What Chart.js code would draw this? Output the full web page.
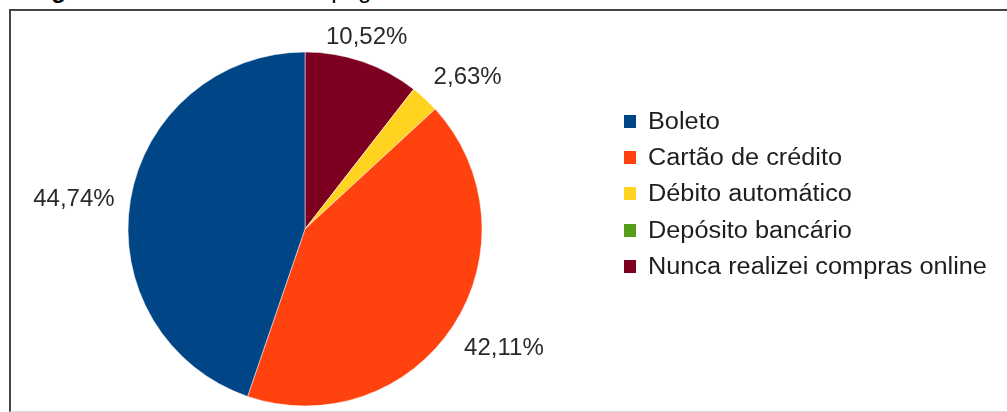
<!DOCTYPE html>
<html>
<head>
<meta charset="utf-8">
<script src="https://cdn.jsdelivr.net/npm/chart.js@4/dist/chart.umd.min.js"></script>
<style>
    html, body { margin: 0; padding: 0; background: #fff; }
    body { width: 1007px; height: 412px; position: relative; overflow: hidden; font-family: "Liberation Sans", Arial, sans-serif; }
    #caption { position: absolute; left: 30px; top: -22px; font-size: 24px; line-height: 24px; color: #000; white-space: nowrap; }
    #caption .rest { position: absolute; left: 180px; }
    #frame { position: absolute; left: 9px; top: 9px; width: 1010px; height: 400px;
             border-top: 2px solid #454545; border-left: 2px solid #454545; border-bottom: 1px solid #d8d8d8; }
    #chart { position: absolute; left: 0; top: 0; }
    #legend { position: absolute; left: 624px; top: 103px; margin: 0; padding: 0; list-style: none; }
    #legend li { height: 36.3px; display: flex; align-items: center; position: relative; }
    #legend .box { width: 12px; height: 13px; margin-right: 12px; }
    #legend .txt { font-size: 23px; color: #1e1e1e; display: inline-block; transform: scaleX(1.1); transform-origin: left center; white-space: nowrap; }
</style>
</head>
<body>
<div id="caption"><b>Figura 6 –</b><span class="rest">Formas de pagamento</span></div>
<div id="frame"></div>
<canvas id="chart" width="1007" height="412"></canvas>
<ul id="legend"></ul>
<script>
// Payment methods and their share of answers (%)
const labels = ['Boleto', 'Cartão de crédito', 'Débito automático', 'Depósito bancário', 'Nunca realizei compras online'];
const values = [44.74, 42.11, 2.63, 0, 10.52];
const valueLabels = ['44,74%', '42,11%', '2,63%', '0,00%', '10,52%'];
const colors = ['#004586', '#ff420e', '#ffd320', '#579d1c', '#7e0021'];

// Slices run counter-clockwise from the top, so feed them to Chart.js reversed
const order = labels.map((_, i) => i).reverse();

// Legend
const legendEl = document.getElementById('legend');
labels.forEach(function(name, i) {
    const li = document.createElement('li');
    li.innerHTML = '<span class="box" style="background:' + colors[i] + '"></span><span class="txt">' + name + '</span>';
    legendEl.appendChild(li);
});

// Percentage labels outside each slice
const outsideLabels = {
    id: 'outsideLabels',
    afterDatasetsDraw(chart) {
        const ctx = chart.ctx;
        const meta = chart.getDatasetMeta(0);
        const fontSize = 24;
        const capH = fontSize * 0.716;
        ctx.save();
        ctx.font = fontSize + 'px "Liberation Sans", Arial, sans-serif';
        ctx.fillStyle = '#2a2a2a';
        ctx.textBaseline = 'alphabetic';
        meta.data.forEach(function(arc, k) {
            const idx = order[k];
            if (!values[idx]) return;
            const mid = (arc.startAngle + arc.endAngle) / 2;
            const dx = Math.cos(mid), dy = Math.sin(mid);
            const r = arc.outerRadius + 13;
            const ax = arc.x + dx * r;
            const ay = arc.y + dy * r;
            // 8 sectors clockwise from the top
            let deg = (mid * 180 / Math.PI + 90) % 360;
            if (deg < 0) deg += 360;
            const sector = Math.round(deg / 45) % 8;
            const hAlign = ['center', 'left', 'left', 'left', 'center', 'right', 'right', 'right'][sector];
            const vAlign = ['bottom', 'bottom', 'middle', 'top', 'top', 'top', 'middle', 'bottom'][sector];
            let x = ax, y = ay - 5;
            if (vAlign === 'middle') y = ay + capH / 2;
            if (vAlign === 'top') y = ay + capH + 5;
            if (hAlign === 'right') x = ax - 3;
            ctx.textAlign = hAlign;
            ctx.fillText(valueLabels[idx], x, y);
        });
        ctx.restore();
    }
};

new Chart(document.getElementById('chart').getContext('2d'), {
    type: 'pie',
    data: {
        labels: order.map(i => labels[i]),
        datasets: [{
            data: order.map(i => values[i]),
            backgroundColor: order.map(i => colors[i]),
            borderColor: 'rgba(255,255,255,0.5)',
            borderWidth: 1,
            radius: 177
        }]
    },
    options: {
        responsive: false,
        devicePixelRatio: 1,
        animation: false,
        layout: { padding: { left: 128, right: 525, top: 52, bottom: 6 } },
        plugins: {
            legend: { display: false },
            tooltip: { enabled: false }
        }
    },
    plugins: [outsideLabels]
});
</script>
</body>
</html>
